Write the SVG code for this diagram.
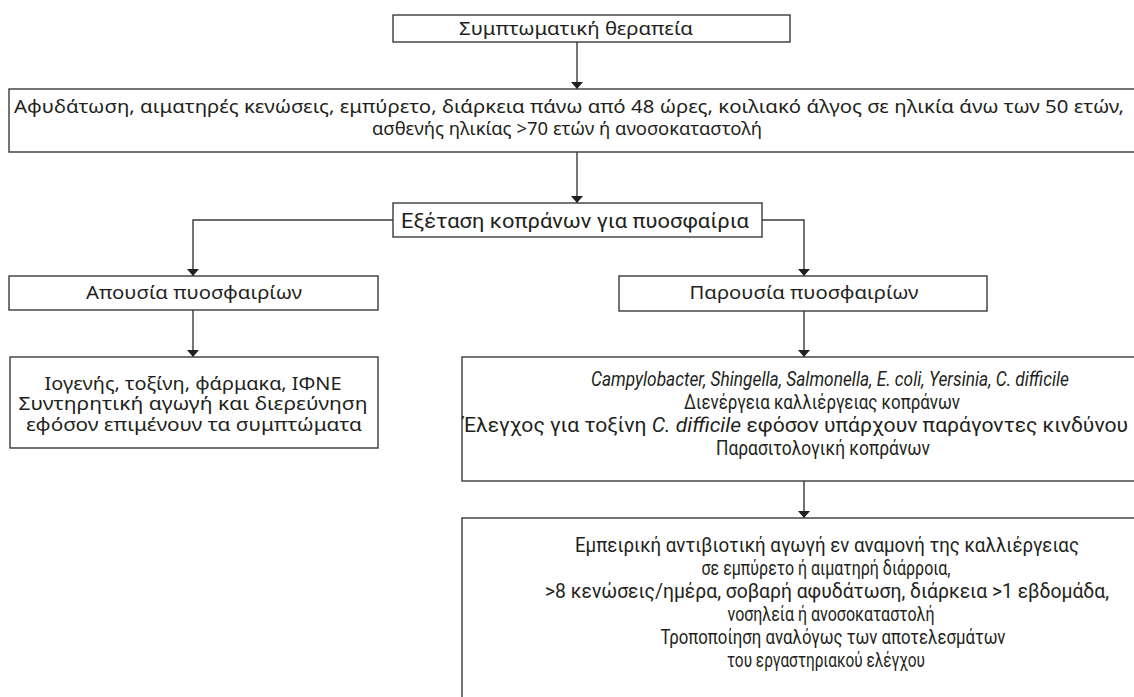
<svg xmlns="http://www.w3.org/2000/svg" width="1134" height="697" viewBox="0 0 1134 697">
<defs>
<style>
.box{fill:#fff;stroke:#3a3a3a;stroke-width:1.4}
.t{font-family:"Noto Sans","Open Sans","DejaVu Sans",sans-serif;font-size:18px;fill:#231f20}
.c{font-family:Roboto,"Liberation Sans",sans-serif;font-size:19.5px;fill:#231f20}
.i{font-style:italic}
.conn{fill:none;stroke:#3a3a3a;stroke-width:1.4}
</style>
<marker id="ah" markerWidth="7" markerHeight="12" refX="7" refY="6" orient="auto" markerUnits="userSpaceOnUse">
<path d="M0,0 L7,6 L0,12 z" fill="#231f20"/>
</marker>
</defs>
<rect width="1134" height="697" fill="#fff"/>
<g id="connectors">
<path class="conn" d="M577,42 V89" marker-end="url(#ah)"/>
<path class="conn" d="M577,152 V203" marker-end="url(#ah)"/>
<path class="conn" d="M393,220 H193 V276" marker-end="url(#ah)"/>
<path class="conn" d="M762,220 H804 V276" marker-end="url(#ah)"/>
<path class="conn" d="M193,310 V357" marker-end="url(#ah)"/>
<path class="conn" d="M804,311 V357" marker-end="url(#ah)"/>
<path class="conn" d="M804,481 V518" marker-end="url(#ah)"/>
</g>
<g id="n1">
<rect class="box" x="393" y="15" width="397" height="27"/>
<text class="t" x="576" y="35" text-anchor="middle" textLength="234" lengthAdjust="spacingAndGlyphs">Συμπτωματική θεραπεία</text>
</g>
<g id="n2">
<rect class="box" x="9" y="89" width="1140" height="63"/>
<text class="t" x="569" y="113" text-anchor="middle" textLength="1110" lengthAdjust="spacingAndGlyphs">Αφυδάτωση, αιματηρές κενώσεις, εμπύρετο, διάρκεια πάνω από 48 ώρες, κοιλιακό άλγος σε ηλικία άνω των 50 ετών,</text>
<text class="t" x="567" y="135" text-anchor="middle" textLength="390" lengthAdjust="spacingAndGlyphs">ασθενής ηλικίας &gt;70 ετών ή ανοσοκαταστολή</text>
</g>
<g id="n3">
<rect class="box" x="393" y="203" width="369" height="34"/>
<text class="c" x="575" y="228" text-anchor="middle" textLength="348" lengthAdjust="spacingAndGlyphs">Εξέταση κοπράνων για πυοσφαίρια</text>
</g>
<g id="n4">
<rect class="box" x="9" y="276" width="369" height="34"/>
<text class="t" x="194" y="299" text-anchor="middle" textLength="216" lengthAdjust="spacingAndGlyphs">Απουσία πυοσφαιρίων</text>
</g>
<g id="n5">
<rect class="box" x="619" y="276" width="368" height="35"/>
<text class="t" x="804" y="299" text-anchor="middle" textLength="229" lengthAdjust="spacingAndGlyphs">Παρουσία πυοσφαιρίων</text>
</g>
<g id="n6">
<rect class="box" x="10" y="357" width="368" height="91"/>
<text class="t" x="193" y="390" text-anchor="middle" textLength="297" lengthAdjust="spacingAndGlyphs">Ιογενής, τοξίνη, φάρμακα, ΙΦΝΕ</text>
<text class="t" x="193" y="410" text-anchor="middle" textLength="349" lengthAdjust="spacingAndGlyphs">Συντηρητική αγωγή και διερεύνηση</text>
<text class="t" x="194" y="431" text-anchor="middle" textLength="336" lengthAdjust="spacingAndGlyphs">εφόσον επιμένουν τα συμπτώματα</text>
</g>
<g id="n7">
<rect class="box" x="462" y="357" width="740" height="124"/>
<text class="c i" x="830" y="386" text-anchor="middle" textLength="478" lengthAdjust="spacingAndGlyphs">Campylobacter, Shingella, Salmonella, E. coli, Yersinia, C. difficile</text>
<text class="c" x="822" y="409" text-anchor="middle" textLength="276" lengthAdjust="spacingAndGlyphs">Διενέργεια καλλιέργειας κοπράνων</text>
<text class="c" x="463" y="432" textLength="665" lengthAdjust="spacingAndGlyphs">Έλεγχος για τοξίνη <tspan class="i">C. difficile</tspan> εφόσον υπάρχουν παράγοντες κινδύνου</text>
<text class="c" x="823" y="455" text-anchor="middle" textLength="214" lengthAdjust="spacingAndGlyphs">Παρασιτολογική κοπράνων</text>
</g>
<g id="n8">
<rect class="box" x="462" y="518" width="740" height="200"/>
<text class="c" x="827" y="552" text-anchor="middle" textLength="504" lengthAdjust="spacingAndGlyphs">Εμπειρική αντιβιοτική αγωγή εν αναμονή της καλλιέργειας</text>
<text class="c" x="826" y="575" text-anchor="middle" textLength="249" lengthAdjust="spacingAndGlyphs">σε εμπύρετο ή αιματηρή διάρροια,</text>
<text class="c" x="827" y="598" text-anchor="middle" textLength="564" lengthAdjust="spacingAndGlyphs">&gt;8 κενώσεις/ημέρα, σοβαρή αφυδάτωση, διάρκεια &gt;1 εβδομάδα,</text>
<text class="c" x="831" y="621" text-anchor="middle" textLength="207" lengthAdjust="spacingAndGlyphs">νοσηλεία ή ανοσοκαταστολή</text>
<text class="c" x="833" y="644" text-anchor="middle" textLength="345" lengthAdjust="spacingAndGlyphs">Τροποποίηση αναλόγως των αποτελεσμάτων</text>
<text class="c" x="826" y="667" text-anchor="middle" textLength="198" lengthAdjust="spacingAndGlyphs">του εργαστηριακού ελέγχου</text>
</g>
</svg>
